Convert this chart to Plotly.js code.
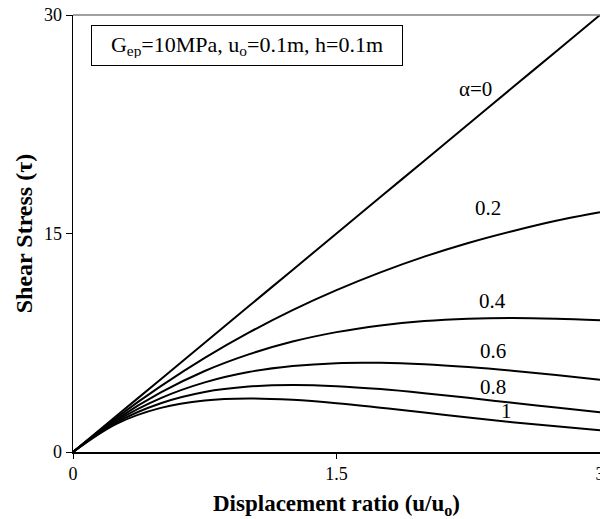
<!DOCTYPE html>
<html>
<head>
<meta charset="utf-8">
<script src="https://cdn.plot.ly/plotly-3.0.1.min.js"></script>
<style>html,body{margin:0;padding:0;overflow:hidden;background:#fff;}</style>
</head>
<body>
<div id="chart" style="width:600px;height:519px;"></div>
<script>
const ratio = [0, 0.25, 0.5, 0.75, 1, 1.25, 1.5, 1.75, 2, 2.25, 2.5, 2.75, 3];
const alpha0  = [0, 2.5, 5, 7.5, 10, 12.5, 15, 17.5, 20, 22.5, 25, 27.5, 30];
const alpha02 = [0, 2.38, 4.52, 6.46, 8.19, 9.74, 11.11, 12.33, 13.41, 14.35, 15.16, 15.88, 16.46];
const alpha04 = [0, 2.26, 4.09, 5.56, 6.70, 7.58, 8.23, 8.69, 8.99, 9.15, 9.20, 9.15, 9.04];
const alpha06 = [0, 2.15, 3.70, 4.78, 5.49, 5.90, 6.10, 6.12, 6.02, 5.83, 5.58, 5.28, 4.96];
const alpha08 = [0, 2.05, 3.35, 4.12, 4.49, 4.60, 4.52, 4.32, 4.04, 3.72, 3.38, 3.05, 2.72];
const alpha1  = [0, 1.95, 3.03, 3.54, 3.68, 3.58, 3.35, 3.04, 2.71, 2.37, 2.05, 1.76, 1.49];

const seriesLabels = ["α=0", "0.2", "0.4", "0.6", "0.8", "1"];
const labelX = [2.29, 2.36, 2.39, 2.39, 2.39, 2.47];
const labelY = [24.9, 16.75, 10.4, 6.95, 4.45, 2.82];

const xTicks = [0, 1.5, 3];
const yTicks = [0, 15, 30];

const serif = "Liberation Serif";
const allSeries = [alpha0, alpha02, alpha04, alpha06, alpha08, alpha1];

const traces = allSeries.map((ys, i) => ({
  x: ratio, y: ys, type: "scatter", mode: "lines",
  line: {color: "#000", width: 2, shape: "spline", smoothing: 1},
  name: seriesLabels[i], showlegend: false, hoverinfo: "skip"
}));

const annotations = seriesLabels.map((t, i) => ({
  x: labelX[i], y: labelY[i], xref: "x", yref: "y", text: t,
  showarrow: false, font: {family: serif, size: 21, color: "#000"}
}));
annotations.push({
  x: 0.034, y: 0.977, xref: "paper", yref: "paper", xanchor: "left", yanchor: "top",
  text: "G<sub>ep</sub>=10MPa, u<sub>o</sub>=0.1m, h=0.1m",
  width: 296, height: 25, align: "center",
  showarrow: false, font: {family: serif, size: 22, color: "#000"},
  bordercolor: "#000", borderwidth: 1, borderpad: 7, bgcolor: "#fff"
});

const layout = {
  width: 600, height: 519,
  margin: {l: 73, r: 0, t: 15, b: 67},
  paper_bgcolor: "#fff", plot_bgcolor: "#fff",
  showlegend: false,
  xaxis: {
    range: [0, 3], tickvals: xTicks, ticktext: xTicks.map(String),
    ticklabeloverflow: "allow",
    showgrid: false, zeroline: false, showline: true, linecolor: "#000", linewidth: 1.5,
    ticks: "outside", ticklen: 5, tickcolor: "#000", tickwidth: 1,
    tickfont: {family: serif, size: 18, color: "#000"},
    title: {text: "<b>Displacement ratio (u/u<sub>o</sub>)</b>", font: {family: serif, size: 23, color: "#000"}, standoff: 12}
  },
  yaxis: {
    range: [0, 30], tickvals: yTicks, ticktext: yTicks.map(String),
    showgrid: false, zeroline: false, showline: true, linecolor: "#000", linewidth: 1.5,
    ticks: "outside", ticklen: 6, tickcolor: "#000", tickwidth: 1,
    tickfont: {family: serif, size: 18, color: "#000"},
    title: {text: "<b>Shear Stress (τ)</b>", font: {family: serif, size: 24, color: "#000"}, standoff: 4}
  },
  shapes: [{
    type: "line", xref: "paper", yref: "paper", x0: 0, x1: 1, y0: 1, y1: 1,
    line: {color: "#808080", width: 1.5}
  }],
  annotations: annotations
};

Plotly.newPlot("chart", traces, layout, {staticPlot: true, displayModeBar: false});
</script>
</body>
</html>
